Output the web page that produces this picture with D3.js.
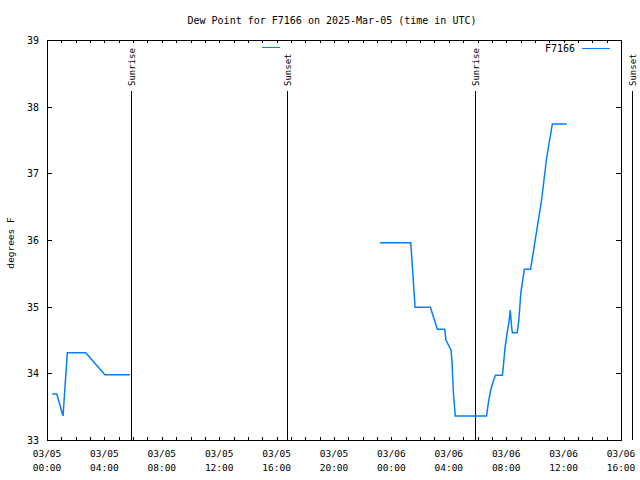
<!DOCTYPE html>
<html>
<head>
<meta charset="utf-8">
<script src="https://cdn.jsdelivr.net/npm/d3@7"></script>
<style>
  html, body { margin: 0; padding: 0; background: #fff; }
  svg { display: block; }
  text { font-family: "DejaVu Sans Mono", monospace; fill: #000; }
</style>
</head>
<body>
<svg id="chart" width="640" height="480"></svg>
<script>
// ---- data ----
const title = "Dew Point for F7166 on 2025-Mar-05 (time in UTC)";
const seriesName = "F7166";
const yLabel = "degrees F";
const times = [
  "2025-03-05 00:22", "2025-03-05 00:41", "2025-03-05 01:07", "2025-03-05 01:25",
  "2025-03-05 02:42", "2025-03-05 04:02", "2025-03-05 05:47",
  "2025-03-05 12:00",
  "2025-03-05 23:12", "2025-03-06 01:21", "2025-03-06 01:39", "2025-03-06 02:43",
  "2025-03-06 03:12", "2025-03-06 03:43", "2025-03-06 03:48", "2025-03-06 04:09",
  "2025-03-06 04:13", "2025-03-06 04:19", "2025-03-06 04:27", "2025-03-06 06:38",
  "2025-03-06 06:45", "2025-03-06 06:55", "2025-03-06 07:06", "2025-03-06 07:15",
  "2025-03-06 07:44", "2025-03-06 07:48", "2025-03-06 07:55", "2025-03-06 08:05",
  "2025-03-06 08:12", "2025-03-06 08:17", "2025-03-06 08:23", "2025-03-06 08:26",
  "2025-03-06 08:46", "2025-03-06 08:53", "2025-03-06 09:01", "2025-03-06 09:07",
  "2025-03-06 09:16", "2025-03-06 09:42", "2025-03-06 10:07", "2025-03-06 10:28",
  "2025-03-06 10:49", "2025-03-06 11:13", "2025-03-06 12:13"
];
const dewPoint = [
  33.69, 33.69, 33.36, 34.31,
  34.31, 33.98, 33.98,
  null,
  35.96, 35.96, 34.99, 34.99,
  34.66, 34.66, 34.50, 34.35,
  34.20, 33.72, 33.36, 33.36,
  33.55, 33.75, 33.88, 33.97,
  33.97, 34.10, 34.38, 34.63,
  34.78, 34.95, 34.68, 34.61,
  34.61, 34.80, 35.20, 35.35,
  35.56, 35.56, 36.13, 36.60,
  37.23, 37.74, 37.74
];
const sunEvents = ["Sunrise", "Sunset", "Sunrise", "Sunset"];
const sunTimes = ["2025-03-05 05:51", "2025-03-05 16:43", "2025-03-06 05:49", "2025-03-06 16:44"];
const xDomain = ["2025-03-05 00:00", "2025-03-06 16:00"];
const yTicks = [33, 34, 35, 36, 37, 38, 39];

// ---- drawing ----
const parse = d3.utcParse("%Y-%m-%d %H:%M");
const svg = d3.select("#chart");
const L = 47, R = 621, T = 40, B = 440;

const x = d3.scaleUtc().domain(xDomain.map(parse)).range([L, R]);
const y = d3.scaleLinear().domain([33, 39]).range([B, T]);

svg.append("rect").attr("width", 640).attr("height", 480).attr("fill", "#fff");

// title
svg.append("text").attr("x", 332).attr("y", 24).attr("text-anchor", "middle")
  .attr("font-size", 10).text(title);

// hour ticks (bottom & top)
const hourTicks = x.ticks(d3.utcHour.every(1));
const g = svg.append("g").attr("shape-rendering", "crispEdges").attr("stroke", "#000");
hourTicks.forEach(t => {
  const xp = Math.round(x(t)) + 0.5;
  g.append("line").attr("x1", xp).attr("x2", xp).attr("y1", B).attr("y2", B - 3);
  g.append("line").attr("x1", xp).attr("x2", xp).attr("y1", T).attr("y2", T + 3);
});
// y ticks (left & right)
yTicks.forEach(v => {
  const yp = Math.round(y(v)) + 0.5;
  g.append("line").attr("x1", L).attr("x2", L + 5).attr("y1", yp).attr("y2", yp);
  g.append("line").attr("x1", R).attr("x2", R - 5).attr("y1", yp).attr("y2", yp);
});

// x labels every 4 hours
const labelTicks = x.ticks(d3.utcHour.every(4));
const fDate = d3.utcFormat("%m/%d"), fTime = d3.utcFormat("%H:%M");
labelTicks.forEach(t => {
  const xp = x(t);
  svg.append("text").attr("x", xp).attr("y", 457).attr("text-anchor", "middle")
    .attr("font-size", 9.5).text(fDate(t));
  svg.append("text").attr("x", xp).attr("y", 471).attr("text-anchor", "middle")
    .attr("font-size", 9.5).text(fTime(t));
});

// y labels
yTicks.forEach(v => {
  svg.append("text").attr("x", 39).attr("y", y(v) + 4).attr("text-anchor", "end")
    .attr("font-size", 10).text(v);
});
svg.append("text").attr("transform", "translate(14,243) rotate(-90)")
  .attr("text-anchor", "middle").attr("font-size", 9.5).text(yLabel);

// sun lines
sunTimes.forEach((s, i) => {
  const xp = Math.round(x(parse(s))) + 0.5;
  svg.append("line").attr("x1", xp).attr("x2", xp).attr("y1", 91).attr("y2", B)
    .attr("stroke", "#000").attr("shape-rendering", "crispEdges");
  svg.append("text").attr("transform", `translate(${xp + 3.5},86) rotate(-90)`)
    .attr("text-anchor", "start").attr("font-size", 9).text(sunEvents[i]);
});

// border
svg.append("rect").attr("x", L + 0.5).attr("y", T + 0.5).attr("width", R - L).attr("height", B - T)
  .attr("fill", "none").attr("stroke", "#000").attr("shape-rendering", "crispEdges");

// series line
const data = times.map((t, i) => ({ t: parse(t), v: dewPoint[i] }));
const line = d3.line().defined(d => d.v !== null).x(d => x(d.t)).y(d => y(d.v));
svg.append("path").datum(data).attr("d", line).attr("fill", "none")
  .attr("stroke", "#0080ff").attr("stroke-width", 1.5);

// legend
svg.append("text").attr("x", 575).attr("y", 52).attr("text-anchor", "end")
  .attr("font-size", 10).text(seriesName);
svg.append("line").attr("x1", 582).attr("x2", 610).attr("y1", 48.5).attr("y2", 48.5)
  .attr("stroke", "#0080ff").attr("stroke-width", 1).attr("shape-rendering", "crispEdges");
svg.append("line").attr("x1", 262).attr("x2", 280).attr("y1", 47.5).attr("y2", 47.5)
  .attr("stroke", "#0080ff").attr("stroke-width", 1).attr("shape-rendering", "crispEdges");
</script>
</body>
</html>
